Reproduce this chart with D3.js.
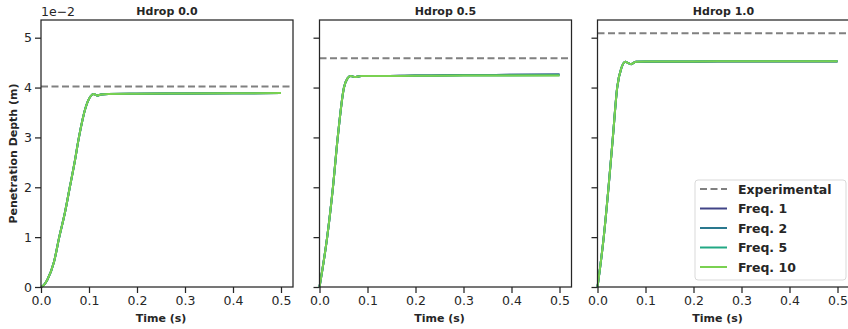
<!DOCTYPE html>
<html>
<head>
<meta charset="utf-8">
<script src="https://cdn.jsdelivr.net/npm/d3@7"></script>
<style>
  body { margin: 0; background: #fff; }
  svg { font-family: "DejaVu Sans", sans-serif; }
</style>
</head>
<body>
<div id="chart"></div>
<script>
// panel titles and experimental reference depth (m)
var panels = ["Hdrop 0.0", "Hdrop 0.5", "Hdrop 1.0"];
var experimental = [0.0402, 0.0459, 0.0509];

var seriesNames = ["Freq. 1", "Freq. 2", "Freq. 5", "Freq. 10"];
var seriesColors = ["#414487", "#2a788e", "#22a884", "#7ad151"];

// time samples (s), one list per panel
var time0 = [0, 0.005, 0.013, 0.027, 0.038, 0.05, 0.06, 0.07, 0.079, 0.093, 0.103, 0.11, 0.117, 0.125, 0.14, 0.2, 0.3, 0.4, 0.5];
var time1 = [0, 0.016, 0.028, 0.038, 0.051, 0.058, 0.065, 0.075, 0.087, 0.1, 0.2, 0.3, 0.4, 0.5];
var time2 = [0, 0.013, 0.023, 0.032, 0.041, 0.05, 0.058, 0.064, 0.07, 0.08, 0.1, 0.2, 0.3, 0.4, 0.5];

// penetration depth (m) per frequency, panel Hdrop 0.0
var h0f1  = [0, 0.0003, 0.0014, 0.005, 0.010, 0.015, 0.020, 0.025, 0.030, 0.036, 0.0382, 0.0387, 0.0384, 0.0386, 0.0387, 0.03875, 0.0388, 0.03885, 0.0389];
var h0f2  = [0, 0.0003, 0.0014, 0.005, 0.010, 0.015, 0.020, 0.025, 0.030, 0.036, 0.0382, 0.0387, 0.0384, 0.0386, 0.0387, 0.03875, 0.0388, 0.03885, 0.0389];
var h0f5  = [0, 0.0003, 0.0014, 0.005, 0.010, 0.015, 0.020, 0.025, 0.030, 0.036, 0.0382, 0.0387, 0.0384, 0.0386, 0.0387, 0.03875, 0.0388, 0.03885, 0.0389];
var h0f10 = [0, 0.0003, 0.0014, 0.005, 0.010, 0.015, 0.020, 0.025, 0.030, 0.036, 0.0382, 0.0387, 0.0384, 0.0386, 0.0387, 0.03875, 0.0388, 0.03885, 0.0389];

// panel Hdrop 0.5
var h1f1  = [0, 0.010, 0.020, 0.030, 0.040, 0.0418, 0.0423, 0.0421, 0.0423, 0.0423, 0.0424, 0.0425, 0.04255, 0.0426];
var h1f2  = [0, 0.010, 0.020, 0.030, 0.040, 0.0418, 0.0423, 0.0421, 0.0423, 0.0423, 0.0424, 0.0425, 0.04255, 0.0426];
var h1f5  = [0, 0.010, 0.020, 0.030, 0.040, 0.0418, 0.0423, 0.0421, 0.0423, 0.0423, 0.04235, 0.0424, 0.0424, 0.04245];
var h1f10 = [0, 0.010, 0.020, 0.030, 0.040, 0.0418, 0.0423, 0.0421, 0.0423, 0.0423, 0.04235, 0.0424, 0.0424, 0.0424];

// panel Hdrop 1.0
var h2f1  = [0, 0.010, 0.020, 0.030, 0.040, 0.044, 0.0452, 0.0449, 0.0447, 0.0452, 0.0452, 0.0452, 0.04525, 0.04525, 0.04525];
var h2f2  = [0, 0.010, 0.020, 0.030, 0.040, 0.044, 0.0452, 0.0449, 0.0447, 0.0452, 0.04525, 0.04525, 0.0453, 0.0453, 0.0453];
var h2f5  = [0, 0.010, 0.020, 0.030, 0.040, 0.044, 0.0452, 0.0449, 0.0447, 0.0452, 0.04525, 0.04525, 0.0453, 0.0453, 0.0453];
var h2f10 = [0, 0.010, 0.020, 0.030, 0.040, 0.044, 0.0452, 0.0449, 0.0447, 0.0452, 0.04525, 0.04525, 0.0453, 0.0453, 0.0453];

var xTicks = [0, 0.1, 0.2, 0.3, 0.4, 0.5];
var yTicks = [0, 0.01, 0.02, 0.03, 0.04, 0.05];

var times = [time0, time1, time2];
var depths = [[h0f1, h0f2, h0f5, h0f10], [h1f1, h1f2, h1f5, h1f10], [h2f1, h2f2, h2f5, h2f10]];

var W = 848, H = 329;
var axisColor = "#262626";
var panelLeft = [41, 319.5, 597.5], panelW = 252;
var plotTop = 20, plotBottom = 287;

var svg = d3.select("#chart").append("svg")
  .attr("width", W).attr("height", H);

var y = d3.scaleLinear().domain([0, 0.05355]).range([plotBottom, plotTop]);

panels.forEach(function(title, p) {
  var x = d3.scaleLinear().domain([0, 0.525]).range([panelLeft[p], panelLeft[p] + panelW]);
  var g = svg.append("g");

  // experimental reference
  g.append("line")
    .attr("x1", x(0)).attr("x2", x(0.525))
    .attr("y1", y(experimental[p])).attr("y2", y(experimental[p]))
    .attr("stroke", "#808080").attr("stroke-width", 2)
    .attr("stroke-dasharray", "7,3.5");

  var line = d3.line()
    .x(function(d) { return x(d[0]); })
    .y(function(d) { return y(d[1]); })
    .curve(d3.curveMonotoneX);

  depths[p].forEach(function(vals, s) {
    var pts = times[p].map(function(t, i) { return [t, vals[i]]; });
    g.append("path")
      .datum(pts)
      .attr("d", line)
      .attr("fill", "none")
      .attr("stroke", seriesColors[s])
      .attr("stroke-width", 2);
  });

  // axes
  var xAxis = g.append("g")
    .attr("transform", "translate(0," + plotBottom + ")")
    .call(d3.axisBottom(x).tickValues(xTicks).tickFormat(d3.format(".1f")).tickSize(6).tickPadding(3));
  var yAxis = g.append("g")
    .attr("transform", "translate(" + panelLeft[p] + ",0)")
    .call(d3.axisLeft(y).tickValues(yTicks)
      .tickFormat(p === 0 ? function(d) { return Math.round(d * 100); } : "")
      .tickSize(6).tickPadding(3));

  [xAxis, yAxis].forEach(function(a) {
    a.select(".domain").remove();
    a.selectAll("line").attr("stroke", axisColor).attr("stroke-width", 1.25);
    a.selectAll("text").attr("fill", axisColor).style("font-size", "12.5px")
      .style("font-family", "DejaVu Sans");
  });

  // frame
  g.append("rect")
    .attr("x", panelLeft[p]).attr("y", plotTop)
    .attr("width", panelW).attr("height", plotBottom - plotTop)
    .attr("fill", "none").attr("stroke", axisColor).attr("stroke-width", 1.25);

  g.append("text")
    .attr("x", panelLeft[p] + panelW / 2).attr("y", 15)
    .attr("text-anchor", "middle")
    .style("font-size", "11px").style("font-weight", "bold")
    .attr("fill", axisColor)
    .text(title);

  g.append("text")
    .attr("x", panelLeft[p] + panelW / 2 - 6).attr("y", 322)
    .attr("text-anchor", "middle")
    .style("font-size", "11px").style("font-weight", "bold")
    .attr("fill", axisColor)
    .text("Time (s)");
});

svg.append("text")
  .attr("x", 41).attr("y", 16)
  .style("font-size", "12.5px")
  .attr("fill", axisColor)
  .text("1e\u22122");

svg.append("text")
  .attr("transform", "translate(17," + ((plotTop + plotBottom) / 2) + ") rotate(-90)")
  .attr("text-anchor", "middle")
  .style("font-size", "11px").style("font-weight", "bold")
  .attr("fill", axisColor)
  .text("Penetration Depth (m)");

// legend
var lg = svg.append("g");
lg.append("rect")
  .attr("x", 695).attr("y", 180).attr("width", 151).attr("height", 100)
  .attr("rx", 3).attr("fill", "#fff").attr("fill-opacity", 0.8)
  .attr("stroke", "#d9d9d9").attr("stroke-width", 1);

var legendNames = ["Experimental"].concat(seriesNames);
var legendColors = ["#808080"].concat(seriesColors);
legendNames.forEach(function(name, i) {
  var ly = 189 + i * 19.5;
  lg.append("line")
    .attr("x1", 700).attr("x2", 727).attr("y1", ly).attr("y2", ly)
    .attr("stroke", legendColors[i]).attr("stroke-width", 2)
    .attr("stroke-dasharray", i === 0 ? "7,3.5" : null);
  lg.append("text")
    .attr("x", 738).attr("y", ly + 4.5)
    .style("font-size", "12.5px").style("font-weight", "bold")
    .attr("fill", axisColor)
    .text(name);
});
</script>
</body>
</html>
